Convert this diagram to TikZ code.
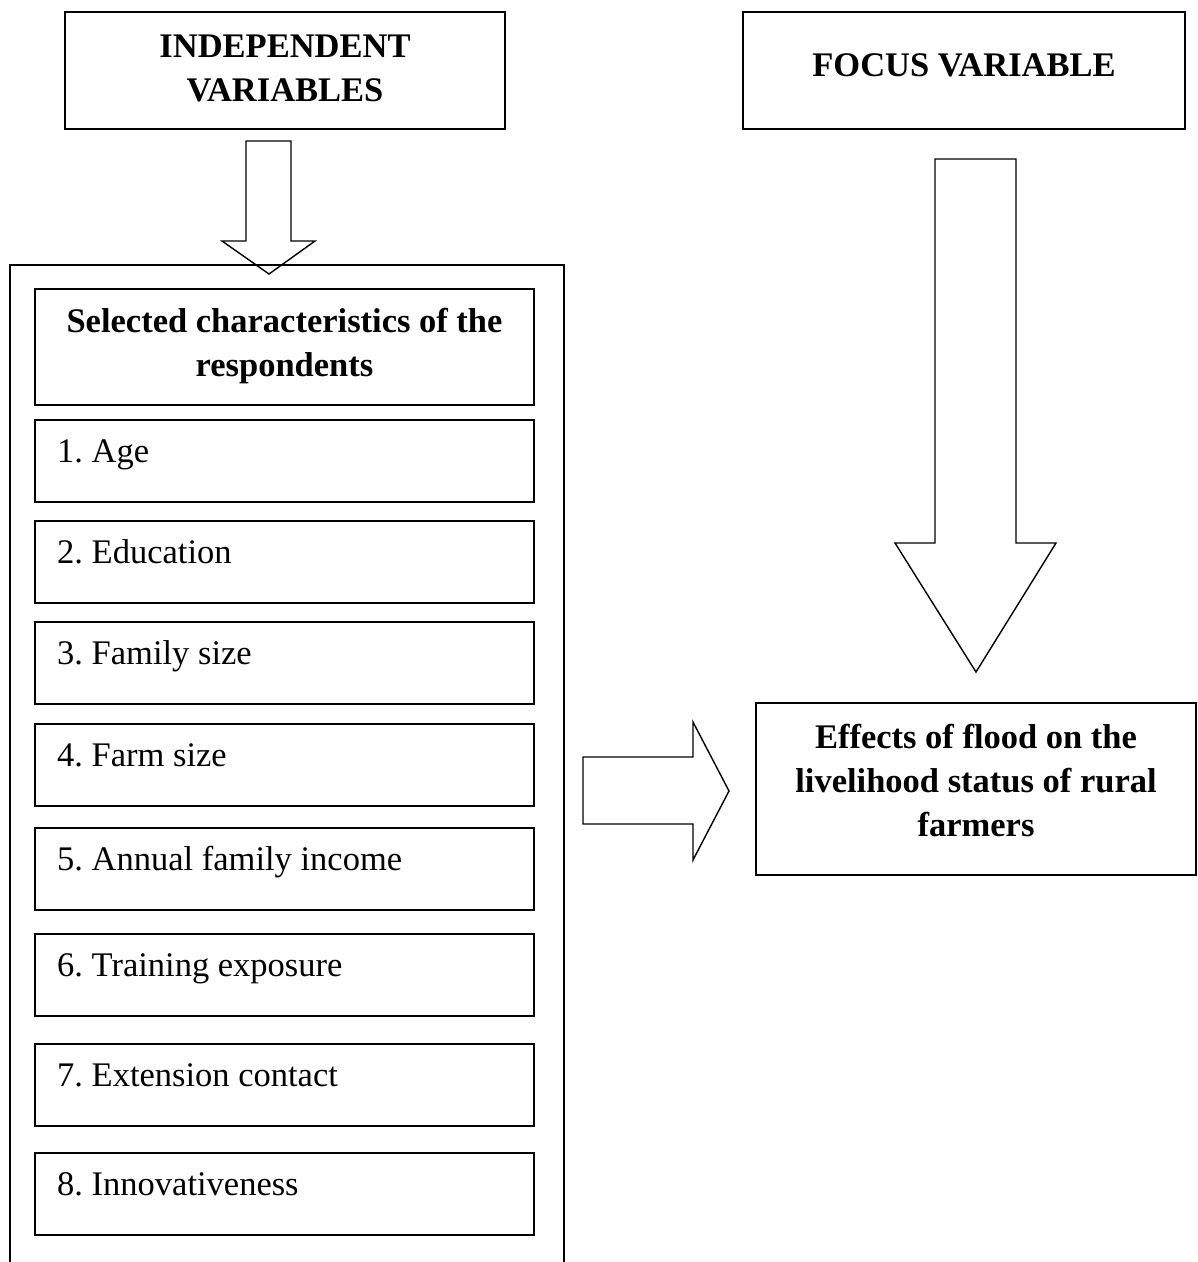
\documentclass[tikz,border=0pt]{standalone}
\usepackage{fontspec}
\setmainfont{Liberation Serif}
\frenchspacing
\begin{document}
\begin{tikzpicture}[x=1pt,y=-1pt,
  box/.style={draw, line width=1.8pt, inner sep=0pt},
  blockarrow/.style={draw, line width=1.4pt, line join=miter},
  hd/.style={font=\fontsize{34.5}{44}\selectfont\bfseries, align=center, inner sep=0pt},
  itm/.style={font=\fontsize{34.5}{40}\selectfont\frenchspacing, anchor=base west, inner sep=0pt}]
\useasboundingbox (0,0) rectangle (1198,1262);

% top boxes
\node[box, minimum width=440pt, minimum height=117pt] (ivbox) at (285,70.5) {};
\node[hd] (ivtxt) at (285,68) {INDEPENDENT\\VARIABLES};
\node[box, minimum width=442pt, minimum height=117pt] (fvbox) at (964,70.5) {};
\node[hd] (fvtxt) at (964,65) {FOCUS VARIABLE};

% outer frame (open at the bottom)
\draw[box] (10,1262) -- (10,265) -- (564,265) -- (564,1262);

% header box
\node[box, minimum width=499pt, minimum height=116pt] (hdbox) at (284.5,347) {};
\node[hd] (hdtxt) at (284.5,346) {Selected characteristics of the\\respondents};

% items
\foreach \t/\l [count=\i] in {420/1. Age, 521/2. Education, 622/3. Family size, 724/4. Farm size, 828/5. Annual family income, 934/6. Training exposure, 1044/7. Extension contact, 1153/8. Innovativeness}{
  \node[box, minimum width=499pt, minimum height=82pt] (item\i) at (284.5,\t+41) {};
  \node[itm] (itemtxt\i) at (57,\t+42) {\l};
}

% effects box
\node[box, minimum width=440pt, minimum height=172pt] (efbox) at (976,789) {};
\node[hd] (eftxt) at (976,781) {Effects of flood on the\\livelihood status of rural\\farmers};

% block arrows
\draw[blockarrow] (246,141) -- (291,141) -- (291,241) -- (315,241) -- (269,274) -- (222,241) -- (246,241) -- cycle;
\draw[blockarrow] (935,159) -- (1016,159) -- (1016,543) -- (1056,543) -- (976,672) -- (895,543) -- (935,543) -- cycle;
\draw[blockarrow] (583,757) -- (693,757) -- (693,722) -- (729,791) -- (693,860) -- (693,824) -- (583,824) -- cycle;
\end{tikzpicture}
\end{document}
